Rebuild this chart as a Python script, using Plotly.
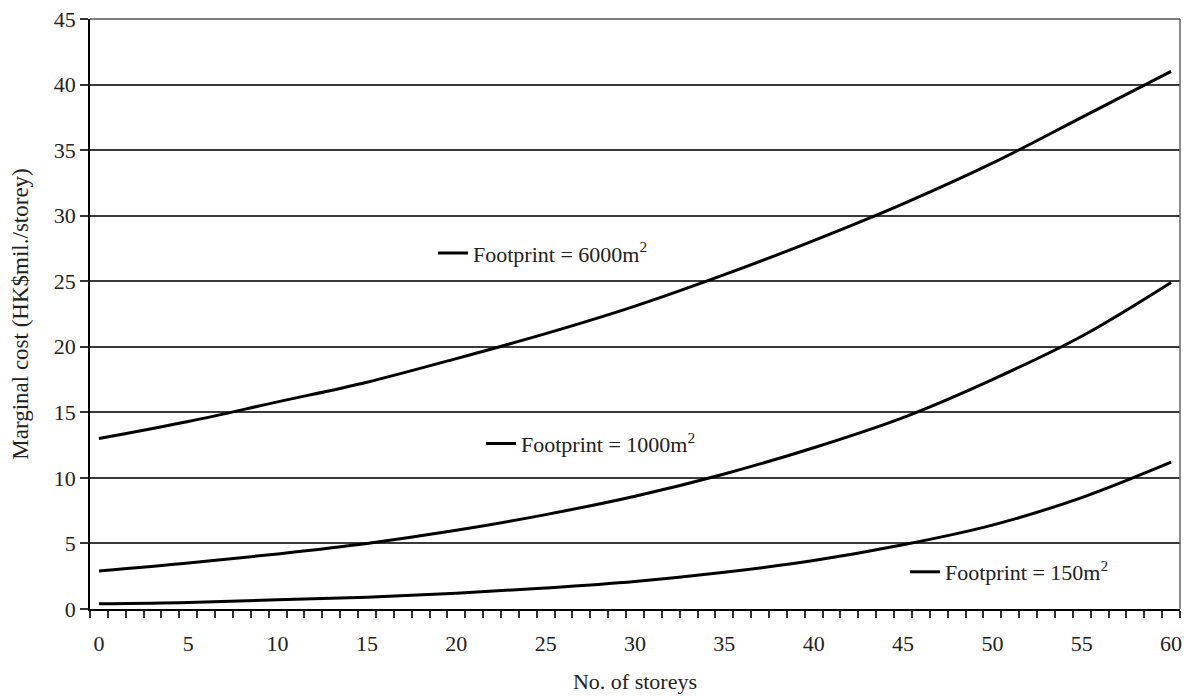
import plotly.graph_objects as go

storeys = [0, 5, 10, 15, 20, 25, 30, 35, 40, 45, 50, 55, 60]
fp_6000 = [13.0, 14.3, 15.8, 17.3, 19.1, 21.0, 23.1, 25.5, 28.1, 30.9, 34.0, 37.5, 41.0]
fp_1000 = [2.9, 3.5, 4.2, 5.0, 6.0, 7.2, 8.6, 10.3, 12.3, 14.6, 17.5, 20.8, 24.9]
fp_150 = [0.4, 0.5, 0.7, 0.9, 1.2, 1.6, 2.1, 2.8, 3.7, 4.9, 6.4, 8.5, 11.2]
series_names = ["Footprint = 6000m<sup>2</sup>", "Footprint = 1000m<sup>2</sup>", "Footprint = 150m<sup>2</sup>"]
x_tick_labels = [str(v) for v in range(0, 61, 5)]
y_ticks = list(range(0, 46, 5))

FONT = "Liberation Serif, Times New Roman, serif"
TXT = "#222222"

fig = go.Figure()
for vals, name, lg in zip([fp_6000, fp_1000, fp_150], series_names, ["legend", "legend2", "legend3"]):
    fig.add_trace(go.Scatter(x=storeys, y=vals, mode="lines", name=name,
                             line=dict(color="black", width=3, shape="spline"),
                             legend=lg, showlegend=True))

legend_common = dict(bgcolor="rgba(0,0,0,0)", borderwidth=0,
                     font=dict(family=FONT, size=22, color=TXT),
                     xanchor="left", yanchor="middle", itemwidth=30,
                     tracegroupgap=0)

fig.update_layout(
    width=1184, height=688,
    margin=dict(l=82, r=12, t=11, b=87),
    paper_bgcolor="white", plot_bgcolor="white",
    font=dict(family=FONT, size=22, color=TXT),
    legend=dict(x=0.3147, y=0.603, **legend_common),
    legend2=dict(x=0.3587, y=0.28, **legend_common),
    legend3=dict(x=0.7477, y=0.0627, **legend_common),
    xaxis=dict(
        range=[-0.5, 60.5], tickmode="array",
        tickvals=[int(v) for v in x_tick_labels], ticktext=x_tick_labels,
        ticks="outside", ticklen=8, tickcolor="rgba(0,0,0,0)",
        ticklabelstandoff=6, automargin=False, ticklabeloverflow="allow",
        showgrid=False, zeroline=False,
        showline=True, linecolor="black", linewidth=1.5,
        minor=dict(tickvals=[k - 0.5 for k in range(0, 62)], ticks="outside",
                   ticklen=7, tickcolor="#333333", tickwidth=1.5, showgrid=False),
        title=dict(text="No. of storeys", font=dict(family=FONT, size=22, color=TXT), standoff=18),
        tickfont=dict(family=FONT, size=22, color=TXT),
    ),
    yaxis=dict(
        range=[0, 45], tickmode="array", tickvals=y_ticks,
        ticks="outside", ticklen=8, tickcolor="#333333", tickwidth=1.5,
        automargin=False, ticklabeloverflow="allow",
        showgrid=True, gridcolor="#3a3a3a", gridwidth=1.5,
        zeroline=False, showline=True, linecolor="black", linewidth=1.5,
        title=dict(text="Marginal cost (HK$mil./storey)", font=dict(family=FONT, size=23, color=TXT), standoff=20),
        tickfont=dict(family=FONT, size=22, color=TXT),
    ),
    shapes=[
        dict(type="line", xref="paper", yref="paper", x0=1, x1=1, y0=0, y1=1,
             line=dict(color="#666666", width=1.5)),
        dict(type="line", xref="paper", yref="paper", x0=0, x1=1, y0=1, y1=1,
             line=dict(color="#555555", width=1.5)),
    ],
)

fig.write_html("out.html")
